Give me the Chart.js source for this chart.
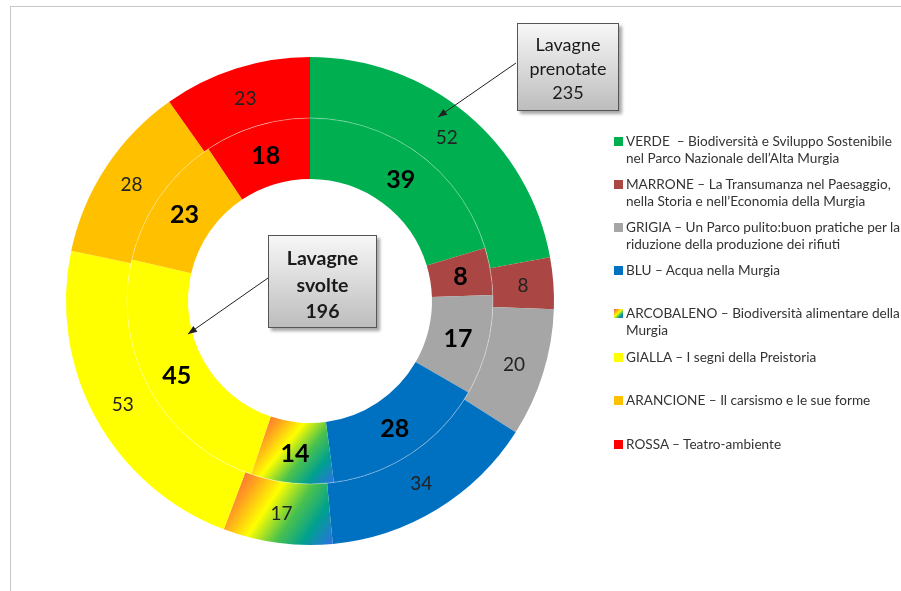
<!DOCTYPE html>
<html>
<head>
<meta charset="utf-8">
<script src="https://cdn.jsdelivr.net/npm/chart.js@4"></script>
<style>
  html, body { margin:0; padding:0; background:#fff; }
  #wrap { position:relative; width:901px; height:591px; overflow:hidden; font-family: Lato, "Open Sans", sans-serif; }
  #frame { position:absolute; left:10px; top:6px; width:900px; height:600px; border-left:1px solid #c8c8c8; border-top:1px solid #c8c8c8; }
  canvas { position:absolute; left:0; top:0; }
  .box { position:absolute; border:1px solid #555; background:linear-gradient(#f7f7f7, #bdbdbd); box-shadow:3px 3px 3px rgba(0,0,0,0.35); text-align:center; color:#1a1a1a; box-sizing:border-box; }
  #legend { position:absolute; left:614px; top:0; font-size:13.6px; color:#333; }
  .li { position:absolute; white-space:pre; line-height:17px; }
  .sw { position:absolute; left:0; width:9px; height:9px; }
  .tx { position:absolute; left:12px; }
  svg { position:absolute; left:0; top:0; }
</style>
</head>
<body>
<div id="wrap">
  <div id="frame"></div>
  <canvas id="c" width="901" height="591"></canvas>
  <svg width="901" height="591" id="arrows"></svg>
  <div id="legend"></div>
</div>
<script>
// ---- data ----
const categories = ["VERDE", "MARRONE", "GRIGIA", "BLU", "ARCOBALENO", "GIALLA", "ARANCIONE", "ROSSA"];
const prenotate = [52, 8, 20, 34, 17, 53, 28, 23];   // outer ring, total 235
const svolte    = [39, 8, 17, 28, 14, 45, 23, 18];   // inner ring
const totalPrenotate = "235";
const totalSvolte = "196";
const legendLines = [
  ["VERDE  \u2013 Biodiversit\u00e0 e Sviluppo Sostenibile", "nel Parco Nazionale dell\u2019Alta Murgia"],
  ["MARRONE \u2013 La Transumanza nel Paesaggio,", "nella Storia e nell\u2019Economia della Murgia"],
  ["GRIGIA \u2013 Un Parco pulito:buon pratiche per la", "riduzione della produzione dei rifiuti"],
  ["BLU \u2013 Acqua nella Murgia"],
  ["ARCOBALENO \u2013 Biodiversit\u00e0 alimentare della", "Murgia"],
  ["GIALLA \u2013 I segni della Preistoria"],
  ["ARANCIONE \u2013 Il carsismo e le sue forme"],
  ["ROSSA \u2013 Teatro-ambiente"]
];
const colors = ["#00b050", "#aa4643", "#a6a6a6", "#0070c0", "RAINBOW", "#ffff00", "#ffc000", "#ff0000"];
const rainbowStops = [[0, "#f54a4a"], [0.22, "#ff9a22"], [0.42, "#ffff00"], [0.62, "#4cc24c"], [0.8, "#00a090"], [1, "#2f6fe6"]];

function rainbowFor(ctx) {
  const chart = ctx.chart, a = chart.chartArea;
  if (!a) return "#ffff00";
  const cx = (a.left + a.right) / 2, cy = (a.top + a.bottom) / 2;
  const R = Math.min(a.right - a.left, a.bottom - a.top) / 2;
  const ringW = (R - R * 0.5) / 2;
  const d = ctx.datasetIndex;
  const rOut = R - d * ringW, rIn = rOut - ringW;
  const data = chart.data.datasets[d].data;
  const total = data.reduce((s, v) => s + v, 0);
  let cum = 0; for (let i = 0; i < ctx.dataIndex; i++) cum += data[i];
  const s = -Math.PI / 2 + 2 * Math.PI * cum / total;
  const e = s + 2 * Math.PI * data[ctx.dataIndex] / total;
  const pts = [];
  for (const ang of [s, e]) for (const r of [rIn, rOut]) pts.push([cx + r * Math.cos(ang), cy + r * Math.sin(ang)]);
  if (s < Math.PI / 2 && e > Math.PI / 2) pts.push([cx, cy + rOut]);
  const xs = pts.map(p => p[0]), ys = pts.map(p => p[1]);
  const g = chart.ctx.createLinearGradient(Math.min(...xs), Math.min(...ys), Math.max(...xs), Math.max(...ys));
  rainbowStops.forEach(st => g.addColorStop(st[0], st[1]));
  return g;
}
function bg(ctx) {
  const c = colors[ctx.dataIndex];
  return c === "RAINBOW" ? rainbowFor(ctx) : c;
}

const labelPlugin = {
  id: "labels",
  afterDatasetsDraw(chart) {
    const c = chart.ctx;
    // faint separator between rings
    const m0 = chart.getDatasetMeta(0);
    if (m0.data.length) {
      const a0 = m0.data[0];
      c.save();
      c.strokeStyle = "rgba(255,255,255,0.35)";
      c.lineWidth = 1;
      c.beginPath();
      c.arc(a0.x, a0.y, a0.innerRadius, 0, Math.PI * 2);
      c.stroke();
      c.restore();
    }
    chart.data.datasets.forEach((ds, di) => {
      const meta = chart.getDatasetMeta(di);
      meta.data.forEach((arc, i) => {
        const p = arc.getCenterPoint();
        c.save();
        c.textAlign = "center";
        c.textBaseline = "middle";
        if (di === 0) { c.font = "19px Lato"; c.fillStyle = "#222"; }
        else { c.font = "bold 25px Lato"; c.fillStyle = "#000"; }
        c.fillText(String(ds.data[i]), p.x, p.y + 1);
        c.restore();
      });
    });
  }
};

new Chart(document.getElementById("c"), {
  type: "doughnut",
  data: {
    labels: categories,
    datasets: [
      { label: "Lavagne prenotate", data: prenotate, backgroundColor: bg, borderWidth: 0 },
      { label: "Lavagne svolte", data: svolte, backgroundColor: bg, borderWidth: 0 }
    ]
  },
  options: {
    responsive: false,
    animation: false,
    cutout: "50%",
    layout: { padding: { left: 66, top: 57, right: 347, bottom: 46 } },
    plugins: { legend: { display: false }, tooltip: { enabled: false } }
  },
  plugins: [labelPlugin]
});

// ---- callout boxes ----
function makeBox(left, top, w, h, lines, bold, fontSize, lh, pad) {
  const d = document.createElement("div");
  d.className = "box";
  Object.assign(d.style, { left: left + "px", top: top + "px", width: w + "px", height: h + "px",
    fontSize: fontSize + "px", lineHeight: lh + "px", fontWeight: bold ? "bold" : "normal", paddingTop: pad + "px" });
  d.innerHTML = lines.join("<br>");
  document.getElementById("wrap").appendChild(d);
}
makeBox(517, 23, 102, 88, ["Lavagne", "prenotate", totalPrenotate], false, 18, 24, 8);
makeBox(268, 235, 109, 93, ["Lavagne", "svolte", totalSvolte], true, 19.5, 26.5, 9);

// arrows
const svg = document.getElementById("arrows");
function arrow(x1, y1, x2, y2) {
  const ns = "http://www.w3.org/2000/svg";
  const l = document.createElementNS(ns, "line");
  l.setAttribute("x1", x1); l.setAttribute("y1", y1); l.setAttribute("x2", x2); l.setAttribute("y2", y2);
  l.setAttribute("stroke", "#222"); l.setAttribute("stroke-width", "1");
  svg.appendChild(l);
  const ang = Math.atan2(y2 - y1, x2 - x1), L = 9, W = 3.5;
  const bx = x2 - L * Math.cos(ang), by = y2 - L * Math.sin(ang);
  const p = document.createElementNS(ns, "polygon");
  p.setAttribute("points", `${x2},${y2} ${bx + W * Math.sin(ang)},${by - W * Math.cos(ang)} ${bx - W * Math.sin(ang)},${by + W * Math.cos(ang)}`);
  p.setAttribute("fill", "#222");
  svg.appendChild(p);
}
arrow(516, 63, 438, 117);
arrow(268, 278, 188, 334);

// ---- legend ----
const legendTop = [141, 184, 227, 270, 313, 357, 400, 444];
const leg = document.getElementById("legend");
legendLines.forEach((lines, i) => {
  const item = document.createElement("div");
  item.className = "li";
  item.style.top = (legendTop[i] - 8.5) + "px";
  const sw = document.createElement("div");
  sw.className = "sw";
  sw.style.top = "4px";
  sw.style.background = colors[i] === "RAINBOW" ? "linear-gradient(135deg,#f54a4a,#ffff00 45%,#00a090 75%,#2f6fe6)" : colors[i];
  item.appendChild(sw);
  const tx = document.createElement("div");
  tx.className = "tx";
  tx.innerHTML = lines.join("<br>");
  item.appendChild(tx);
  leg.appendChild(item);
});
</script>
</body>
</html>
